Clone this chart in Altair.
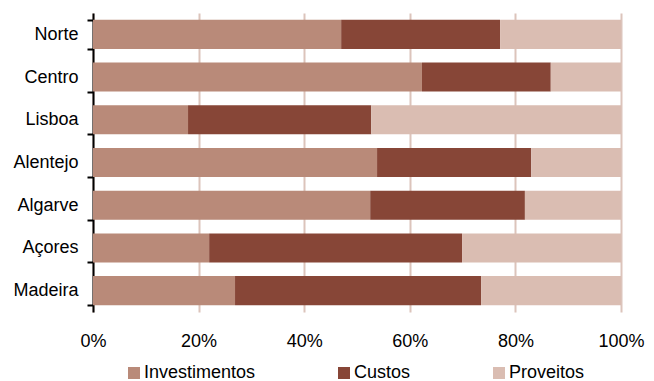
import altair as alt
import pandas as pd

regioes = ["Norte", "Centro", "Lisboa", "Alentejo", "Algarve", "Açores", "Madeira"]
series = ["Investimentos", "Custos", "Proveitos"]
investimentos = [47.0, 62.3, 18.0, 53.8, 52.5, 22.0, 26.9]
custos = [30.1, 24.4, 34.7, 29.2, 29.3, 47.9, 46.6]
proveitos = [22.9, 13.3, 47.3, 17.0, 18.2, 30.1, 26.5]
cores = ["#b98a79", "#874637", "#dabdb2"]
ticks_x = [0, 0.2, 0.4, 0.6, 0.8, 1.0]

rows = []
for i, r in enumerate(regioes):
    for j, (s, vals) in enumerate(zip(series, [investimentos, custos, proveitos])):
        rows.append({"regiao": r, "serie": s, "valor": vals[i], "ordem": j})
df = pd.DataFrame(rows)

FONT = "Liberation Sans"

chart = alt.Chart(df).mark_bar().encode(
    x=alt.X(
        "valor:Q",
        stack="normalize",
        scale=alt.Scale(domain=[0, 1], nice=False),
        axis=alt.Axis(
            title=None, format="%", values=ticks_x, grid=True,
            gridColor="#dcc4bb", gridWidth=2, domain=False, ticks=False,
            labelPadding=20, labelFontSize=18, labelColor="#000000",
            labelFont=FONT, labelFlush=False,
        ),
    ),
    y=alt.Y(
        "regiao:N",
        sort=regioes,
        scale=alt.Scale(paddingInner=0.32, paddingOuter=0.16),
        axis=alt.Axis(
            title=None, grid=False, domainColor="#000000", domainWidth=2,
            tickColor="#000000", tickWidth=2, tickSize=6, tickBand="extent",
            labelPadding=9, labelFontSize=18, labelColor="#000000", labelFont=FONT,
        ),
    ),
    color=alt.Color(
        "serie:N",
        sort=series,
        scale=alt.Scale(domain=series, range=cores),
        legend=alt.Legend(
            title=None, orient="none", direction="horizontal",
            legendX=32, legendY=351,
            symbolType="square", symbolSize=144, symbolStrokeWidth=0,
            labelFontSize=18, labelFont=FONT, labelColor="#000000",
            labelOffset=1, columnPadding=79,
        ),
    ),
    order=alt.Order("ordem:Q"),
).properties(
    width=528,
    height=299,
    autosize=alt.AutoSizeParams(type="none"),
    padding={"left": 85, "top": 5, "right": 25, "bottom": 69},
).configure_view(stroke=None)

chart.save("out.html", embed_options={"renderer": "svg", "actions": False})
